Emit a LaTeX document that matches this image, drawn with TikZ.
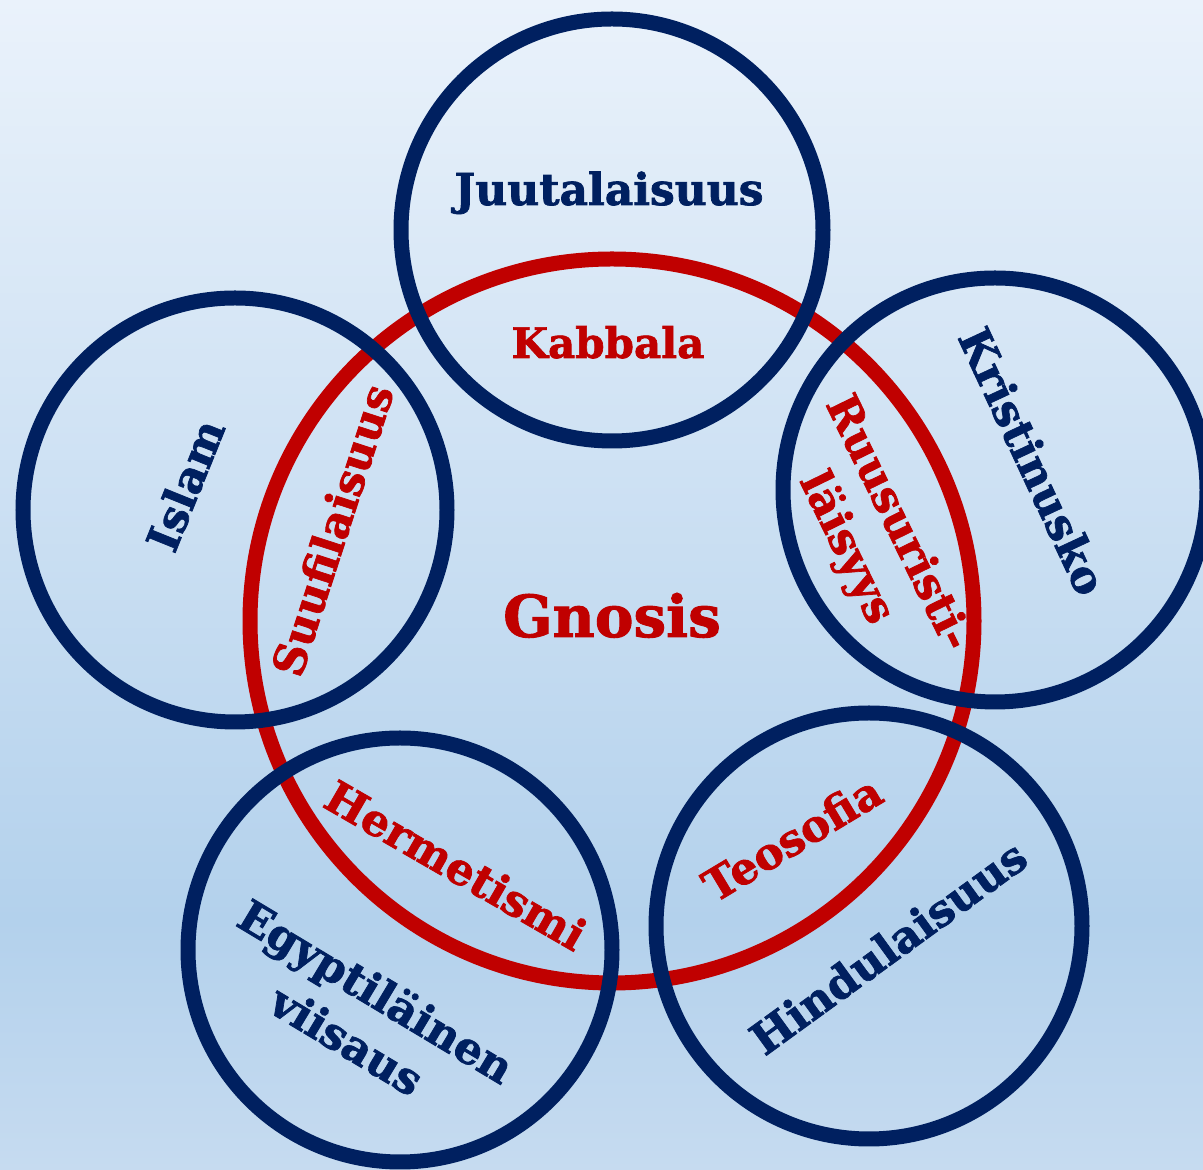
\documentclass[tikz,border=0pt]{standalone}
\usepackage{fontspec}
\setmainfont{DejaVu Serif}
\newfontfamily\heavy{DejaVu Serif Bold}[FakeBold=1.6]
\definecolor{navy}{HTML}{002060}
\definecolor{dred}{HTML}{C00000}
\definecolor{bgtop}{HTML}{EAF2FB}
\definecolor{bgmid}{HTML}{B3D1EC}
\definecolor{bgbot}{HTML}{C6DBF0}
\begin{document}
\begin{tikzpicture}[x=1pt,y=1pt,
  ring/.style={circle, draw=navy, line width=15pt, inner sep=0pt},
  gring/.style={circle, draw=dred, line width=15pt, inner sep=0pt},
  lbl/.style={font=\fontsize{44}{57}\selectfont\heavy, text=navy, align=center, inner sep=0pt},
  rlbl/.style={lbl, text=dred}]
\useasboundingbox (0,0) rectangle (1203,1170);
\shade[top color=bgtop, bottom color=bgmid] (0,250) rectangle (1203,1170);
\shade[top color=bgmid, bottom color=bgbot] (0,0) rectangle (1203,250.5);
\begin{scope}
\clip (0,0) rectangle (1203,1170);
\node[gring, minimum size=724pt] (gn) at (612,549) {};
\node[ring, minimum size=422pt] (ju) at (612,940) {};
\node[ring, minimum size=424pt] (is) at (235,660) {};
\node[ring, minimum size=424pt] (kr) at (995,680) {};
\node[ring, minimum size=424pt] (eg) at (400,220) {};
\node[ring, minimum size=426pt] (hi) at (869,244) {};
\end{scope}
\node[lbl, anchor=base] (tju) at (609,965) {Juutalaisuus};
\node[rlbl, anchor=base, font=\fontsize{42}{50}\selectfont\heavy] (tka) at (608,812) {Kabbala};
\node[rlbl, anchor=base, font=\fontsize{58}{70}\selectfont\heavy] (tgn) at (612,533) {Gnosis};
\node[lbl, rotate=68] (tis) at (185,685) {Islam};
\node[rlbl, rotate=72] (tsu) at (332,640) {Suufilaisuus};
\node[lbl, rotate=-65] (tkr) at (1033,709) {Kristinusko};
\node[rlbl, rotate=-64] (tru) at (871,634) {Ruusuristi-\\läisyys};
\node[rlbl, rotate=-30] (the) at (456,305) {Hermetismi};
\node[lbl, rotate=-31] (teg) at (362,155) {Egyptiläinen\\viisaus};
\node[rlbl, rotate=31] (tte) at (792,332) {Teosofia};
\node[lbl, rotate=36] (thi) at (888,223) {Hindulaisuus};
\end{tikzpicture}
\end{document}
